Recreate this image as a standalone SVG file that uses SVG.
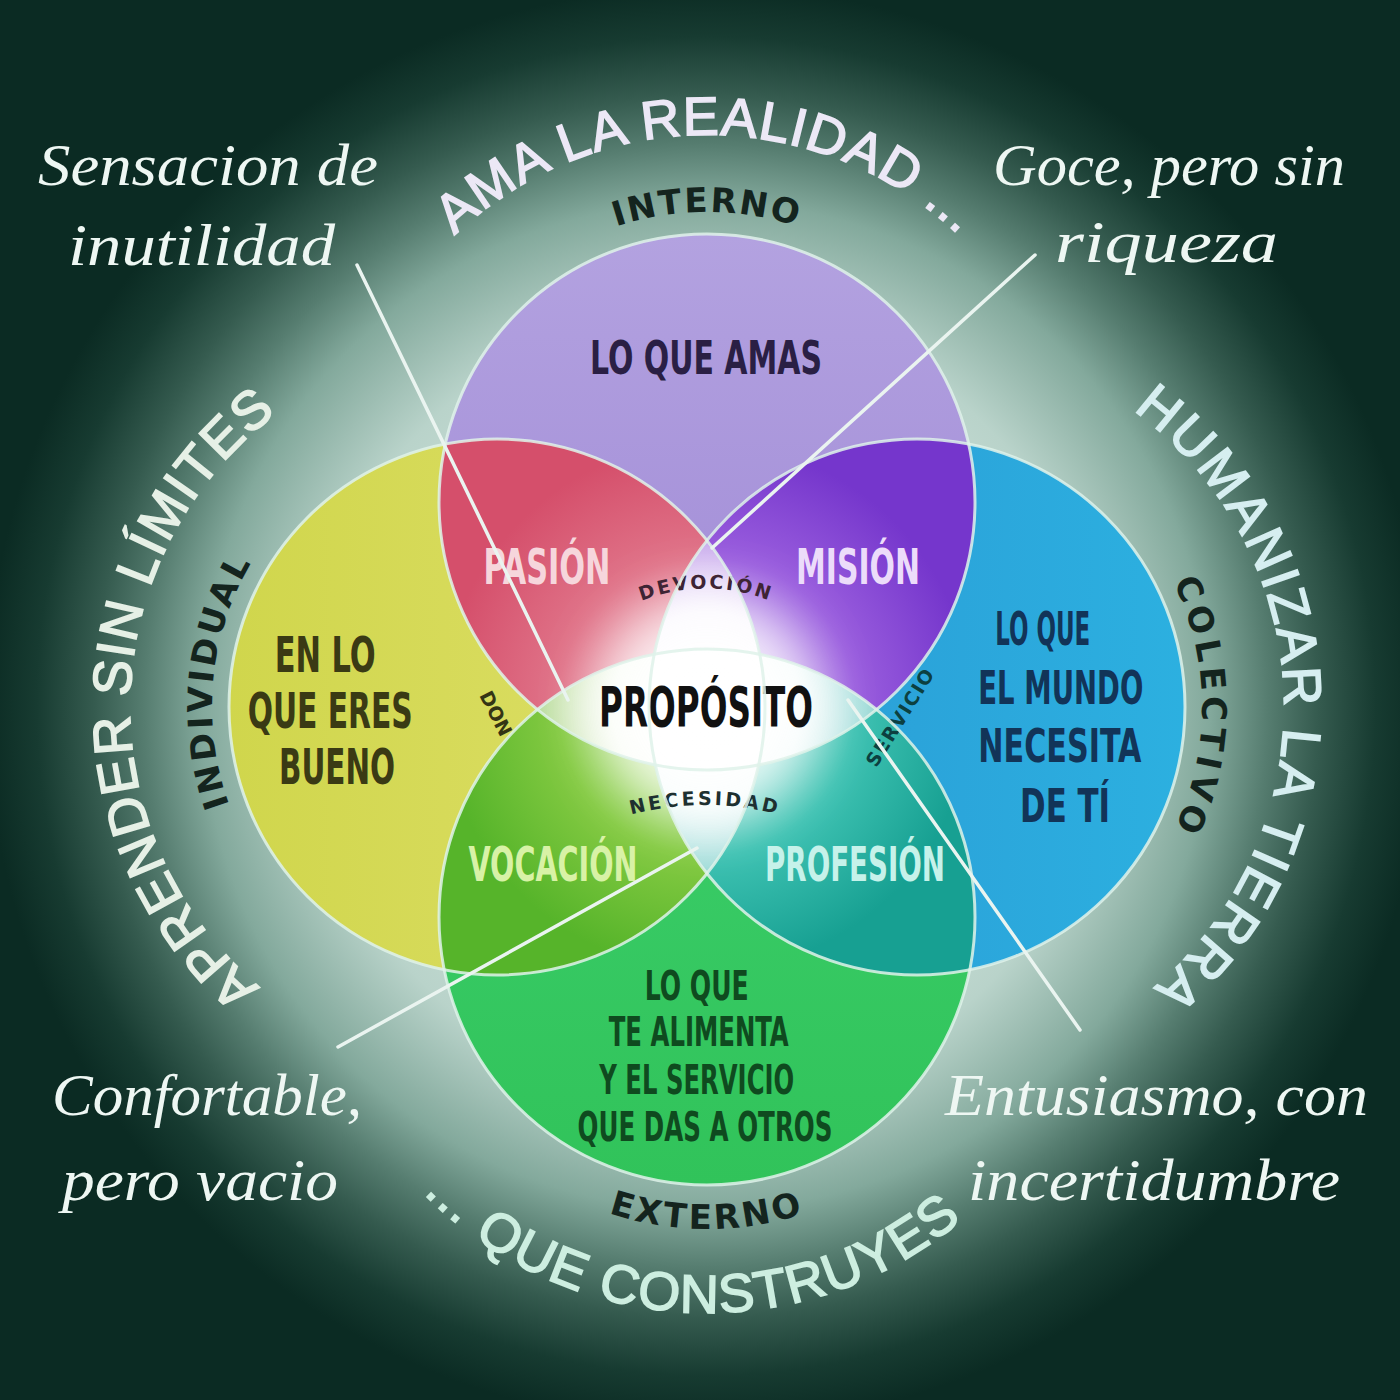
<svg xmlns="http://www.w3.org/2000/svg" width="1400" height="1400" viewBox="0 0 1400 1400">
<defs>
  <radialGradient id="bg" cx="706" cy="706" r="720" gradientUnits="userSpaceOnUse">
    <stop offset="0" stop-color="#f2fbf7"/>
    <stop offset="0.55" stop-color="#b9d3ca"/>
    <stop offset="0.70" stop-color="#83a99c"/>
    <stop offset="0.78" stop-color="#567d70"/>
    <stop offset="0.85" stop-color="#355b4f"/>
    <stop offset="0.93" stop-color="#173b31"/>
    <stop offset="1" stop-color="#0b2b23"/>
  </radialGradient>
  <linearGradient id="gT" x1="0" y1="0" x2="0" y2="1">
    <stop offset="0" stop-color="#b3a2e0"/>
    <stop offset="1" stop-color="#9e88d5"/>
  </linearGradient>
  <linearGradient id="gL" x1="0" y1="0" x2="1" y2="0">
    <stop offset="0" stop-color="#d0d64c"/>
    <stop offset="1" stop-color="#dfe06c"/>
  </linearGradient>
  <linearGradient id="gR" x1="0" y1="0" x2="1" y2="0">
    <stop offset="0" stop-color="#2a98d4"/>
    <stop offset="1" stop-color="#2cb0e0"/>
  </linearGradient>
  <linearGradient id="gB" x1="0" y1="0" x2="0" y2="1">
    <stop offset="0" stop-color="#3ccf6c"/>
    <stop offset="1" stop-color="#31c35a"/>
  </linearGradient>
  <radialGradient id="gTL" cx="707" cy="707" r="330" gradientUnits="userSpaceOnUse">
    <stop offset="0" stop-color="#f6d4da"/>
    <stop offset="0.45" stop-color="#e07489"/>
    <stop offset="0.8" stop-color="#d54f6b"/>
  </radialGradient>
  <radialGradient id="gTR" cx="707" cy="707" r="330" gradientUnits="userSpaceOnUse">
    <stop offset="0" stop-color="#e2d2f6"/>
    <stop offset="0.45" stop-color="#9a5ede"/>
    <stop offset="0.8" stop-color="#7536cc"/>
  </radialGradient>
  <radialGradient id="gLB" cx="707" cy="707" r="330" gradientUnits="userSpaceOnUse">
    <stop offset="0" stop-color="#e2f4c2"/>
    <stop offset="0.45" stop-color="#84ca42"/>
    <stop offset="0.8" stop-color="#56b42a"/>
  </radialGradient>
  <radialGradient id="gRB" cx="707" cy="707" r="330" gradientUnits="userSpaceOnUse">
    <stop offset="0" stop-color="#d2f4ee"/>
    <stop offset="0.45" stop-color="#3ec2b2"/>
    <stop offset="0.8" stop-color="#17a092"/>
  </radialGradient>
  <radialGradient id="gC" cx="707" cy="707" r="190" gradientUnits="userSpaceOnUse">
    <stop offset="0" stop-color="#ffffff" stop-opacity="1"/>
    <stop offset="0.5" stop-color="#ffffff" stop-opacity="0.92"/>
    <stop offset="1" stop-color="#f4f0fa" stop-opacity="0.4"/>
  </radialGradient>
  <clipPath id="cT"><circle cx="707" cy="502" r="268"/></clipPath>
  <clipPath id="cL"><circle cx="497" cy="707" r="268"/></clipPath>
  <clipPath id="cR"><circle cx="917" cy="707" r="268"/></clipPath>
  <clipPath id="cB"><circle cx="707" cy="917" r="268"/></clipPath>
  <filter id="soft" x="-50%" y="-50%" width="200%" height="200%"><feGaussianBlur stdDeviation="28"/></filter>
  <path id="pAma" d="M 340 502 A 367 367 0 0 1 1074 502"/>
  <path id="pApr" d="M 497 1074 A 367 367 0 0 1 497 340"/>
  <path id="pHum" d="M 917 340 A 367 367 0 0 1 917 1074"/>
  <path id="pQue" d="M 311 917 A 396 396 0 0 0 1103 917"/>
  <path id="pInt" d="M 417 502 A 290 290 0 0 1 997 502"/>
  <path id="pCol" d="M 917 422 A 285 285 0 0 1 917 992"/>
  <path id="pExt" d="M 395 917 A 312 312 0 0 0 1019 917"/>
  <path id="pInd" d="M 497 992 A 285 285 0 0 1 497 422"/>
  <path id="pDev" d="M 636 603 Q 705 574 776 603"/>
  <path id="pNec" d="M 630 815 Q 705 795 780 815"/>
</defs>
<style>
  .outer{font-family:"Liberation Sans",Arial,sans-serif;font-size:54px;stroke-width:1.6;}
  .inner{font-family:"DejaVu Sans",sans-serif;font-weight:bold;font-size:34px;fill:#14241e;}
  .lbl{font-family:"Liberation Sans Narrow","DejaVu Sans Condensed","Liberation Sans",sans-serif;font-weight:bold;text-anchor:middle;}
  .small{font-family:"DejaVu Sans",sans-serif;font-weight:bold;font-size:19px;}
  .script{font-family:"Liberation Serif","DejaVu Serif",serif;font-style:italic;font-size:60px;fill:#eef7f3;}
  .ring{fill:none;stroke:#dff2ea;stroke-width:3;stroke-opacity:0.85;}
  .conn{stroke:#eaf4f0;stroke-width:3.5;stroke-linecap:round;}
</style>

<rect x="0" y="0" width="1400" height="1400" fill="url(#bg)"/>

<g id="outer-labels">
  <text class="outer" fill="#ece8f6" stroke="#ece8f6" letter-spacing="1"><textPath href="#pAma" startOffset="50%" text-anchor="middle">AMA LA REALIDAD ...</textPath></text>
  <text class="outer" fill="#e6f0e6" stroke="#e6f0e6" letter-spacing="1.5"><textPath href="#pApr" startOffset="51%" text-anchor="middle">APRENDER SIN LÍMITES</textPath></text>
  <text class="outer" fill="#d6eef0" stroke="#d6eef0" letter-spacing="3"><textPath href="#pHum" startOffset="49%" text-anchor="middle">HUMANIZAR LA TIERRA</textPath></text>
  <text class="outer" fill="#cdeee0" stroke="#cdeee0" letter-spacing="1.5"><textPath href="#pQue" startOffset="48.5%" text-anchor="middle">... QUE CONSTRUYES</textPath></text>
</g>

<g id="inner-labels">
  <text class="inner" letter-spacing="2"><textPath href="#pInt" startOffset="50%" text-anchor="middle">INTERNO</textPath></text>
  <text class="inner" letter-spacing="5"><textPath href="#pCol" startOffset="50%" text-anchor="middle">COLECTIVO</textPath></text>
  <text class="inner" letter-spacing="3"><textPath href="#pExt" startOffset="50%" text-anchor="middle">EXTERNO</textPath></text>
  <text class="inner" letter-spacing="3"><textPath href="#pInd" startOffset="53%" text-anchor="middle">INDIVIDUAL</textPath></text>
</g>

<g id="node-lo-que-amas">
  <circle cx="707" cy="502" r="268" fill="url(#gT)"/>
  <text class="lbl" x="706" y="374" font-size="46" fill="#2a1f44" textLength="232" lengthAdjust="spacingAndGlyphs">LO QUE AMAS</text>
</g>
<g id="node-en-lo-que-eres-bueno">
  <circle cx="497" cy="707" r="268" fill="url(#gL)"/>
  <text class="lbl" font-size="50" fill="#3a3a14">
    <tspan x="333" y="672" textLength="101" lengthAdjust="spacingAndGlyphs">EN LO</tspan>
    <tspan x="338" y="728" textLength="165" lengthAdjust="spacingAndGlyphs">QUE ERES</tspan>
    <tspan x="337" y="784" textLength="116" lengthAdjust="spacingAndGlyphs">BUENO</tspan>
  </text>
</g>
<g id="node-lo-que-el-mundo-necesita">
  <circle cx="917" cy="707" r="268" fill="url(#gR)"/>
  <text class="lbl" font-size="46" fill="#123458">
    <tspan x="1050" y="645" textLength="95" lengthAdjust="spacingAndGlyphs">LO QUE</tspan>
    <tspan x="1068" y="704" textLength="165" lengthAdjust="spacingAndGlyphs">EL MUNDO</tspan>
    <tspan x="1067" y="762" textLength="163" lengthAdjust="spacingAndGlyphs">NECESITA</tspan>
    <tspan x="1065" y="822" textLength="90" lengthAdjust="spacingAndGlyphs">DE TÍ</tspan>
  </text>
</g>
<g id="node-lo-que-te-alimenta">
  <circle cx="707" cy="917" r="268" fill="url(#gB)"/>
  <text class="lbl" font-size="40" fill="#0f4a1f">
    <tspan x="703" y="1000" textLength="104" lengthAdjust="spacingAndGlyphs">LO QUE</tspan>
    <tspan x="705" y="1046" textLength="180" lengthAdjust="spacingAndGlyphs">TE ALIMENTA</tspan>
    <tspan x="703" y="1094" textLength="195" lengthAdjust="spacingAndGlyphs">Y EL SERVICIO</tspan>
    <tspan x="705" y="1141" textLength="255" lengthAdjust="spacingAndGlyphs">QUE DAS A OTROS</tspan>
  </text>
</g>

<g id="node-pasion">
  <circle cx="707" cy="502" r="268" fill="url(#gTL)" clip-path="url(#cL)"/>
  <text class="lbl" x="547" y="584" font-size="50" fill="#f6d6dc" textLength="127" lengthAdjust="spacingAndGlyphs">PASIÓN</text>
</g>
<g id="node-mision">
  <circle cx="707" cy="502" r="268" fill="url(#gTR)" clip-path="url(#cR)"/>
  <text class="lbl" x="858" y="584" font-size="50" fill="#ecdcfa" textLength="124" lengthAdjust="spacingAndGlyphs">MISIÓN</text>
</g>
<g id="node-vocacion">
  <circle cx="707" cy="917" r="268" fill="url(#gLB)" clip-path="url(#cL)"/>
  <text class="lbl" x="553" y="881" font-size="48" fill="#d8f2a6" textLength="169" lengthAdjust="spacingAndGlyphs">VOCACIÓN</text>
</g>
<g id="node-profesion">
  <circle cx="707" cy="917" r="268" fill="url(#gRB)" clip-path="url(#cR)"/>
  <text class="lbl" x="855" y="881" font-size="48" fill="#c6f2ea" textLength="180" lengthAdjust="spacingAndGlyphs">PROFESIÓN</text>
</g>

<g id="node-proposito">
  <circle cx="497" cy="707" r="268" fill="url(#gC)" clip-path="url(#cR)"/>
  <circle cx="707" cy="502" r="268" fill="url(#gC)" clip-path="url(#cB)"/>
  <circle cx="707" cy="707" r="110" fill="#ffffff" opacity="0.8" filter="url(#soft)"/>
  <text class="lbl" x="706" y="726" font-size="56" fill="#111111" textLength="214" lengthAdjust="spacingAndGlyphs">PROPÓSITO</text>
  <text class="small" fill="#3e2434" letter-spacing="2.5"><textPath href="#pDev" startOffset="50%" text-anchor="middle">DEVOCIÓN</textPath></text>
  <text class="small" fill="#1e3030" letter-spacing="3"><textPath href="#pNec" startOffset="50%" text-anchor="middle">NECESIDAD</textPath></text>
  <text class="small" font-size="24" fill="#343414" text-anchor="middle" transform="translate(497 713) rotate(63)" y="8">DON</text>
  <text class="small" fill="#0c4040" letter-spacing="1.5" text-anchor="middle" transform="translate(900 717) rotate(-58)" y="7">SERVICIO</text>
</g>

<g id="outlines">
  <circle class="ring" cx="707" cy="502" r="268"/>
  <circle class="ring" cx="497" cy="707" r="268"/>
  <circle class="ring" cx="917" cy="707" r="268"/>
  <circle class="ring" cx="707" cy="917" r="268"/>
</g>

<g id="connectors">
  <line class="conn" x1="357" y1="265" x2="568" y2="700"/>
  <line class="conn" x1="1035" y1="255" x2="712" y2="548"/>
  <line class="conn" x1="338" y1="1047" x2="697" y2="848"/>
  <line class="conn" x1="848" y1="700" x2="1080" y2="1030"/>
</g>

<g id="node-sensacion">
  <text class="script" x="38" y="185" textLength="340" lengthAdjust="spacingAndGlyphs">Sensacion de</text>
  <text class="script" x="68" y="265" textLength="267" lengthAdjust="spacingAndGlyphs">inutilidad</text>
</g>
<g id="node-goce">
  <text class="script" x="993" y="185" textLength="352" lengthAdjust="spacingAndGlyphs">Goce, pero sin</text>
  <text class="script" x="1055" y="262" textLength="223" lengthAdjust="spacingAndGlyphs">riqueza</text>
</g>
<g id="node-confortable">
  <text class="script" x="52" y="1115" textLength="310" lengthAdjust="spacingAndGlyphs">Confortable,</text>
  <text class="script" x="62" y="1200" textLength="276" lengthAdjust="spacingAndGlyphs">pero vacio</text>
</g>
<g id="node-entusiasmo">
  <text class="script" x="945" y="1115" textLength="423" lengthAdjust="spacingAndGlyphs">Entusiasmo, con</text>
  <text class="script" x="968" y="1200" textLength="372" lengthAdjust="spacingAndGlyphs">incertidumbre</text>
</g>
</svg>
